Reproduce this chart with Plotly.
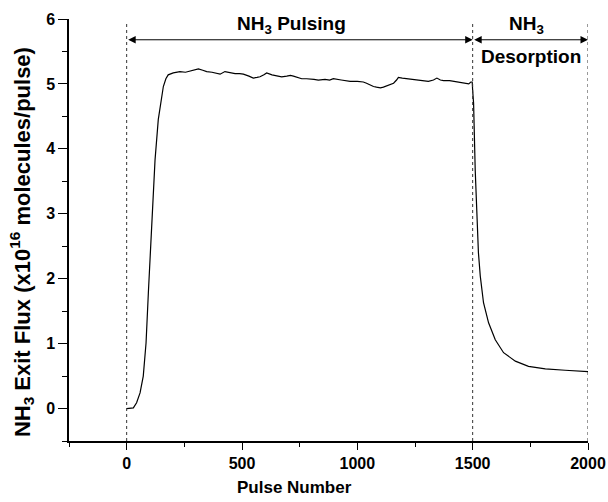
import plotly.graph_objects as go

# Pulse number (x) and NH3 exit flux (x1e16 molecules/pulse)
pulse = [0, 15, 29, 43, 58, 72, 84, 94, 108, 123, 137, 148, 159, 170, 180, 202, 231, 255, 275, 295,
         311, 330, 347, 370, 390, 405, 426, 450, 470, 490, 506, 530, 549, 565, 578, 595, 607, 630,
         651, 672, 694, 710, 723, 740, 759, 780, 795, 812, 831, 860, 880, 896, 930, 950, 969, 1000,
         1026, 1040, 1056, 1070, 1083, 1100, 1113, 1135, 1157, 1170, 1178, 1195, 1215, 1240, 1272,
         1290, 1308, 1330, 1345, 1360, 1374, 1400, 1432, 1455, 1475, 1483, 1492, 1498, 1500, 1504,
         1511, 1518, 1525, 1533, 1547, 1569, 1598, 1634, 1685, 1742, 1815, 1901, 2000]
flux = [0.00, 0.00, 0.01, 0.09, 0.24, 0.50, 1.01, 1.78, 2.80, 3.83, 4.45, 4.72, 4.96, 5.08, 5.14, 5.17,
        5.19, 5.18, 5.20, 5.21, 5.23, 5.21, 5.19, 5.18, 5.16, 5.15, 5.19, 5.17, 5.16, 5.16, 5.15,
        5.12, 5.09, 5.10, 5.11, 5.14, 5.17, 5.14, 5.12, 5.11, 5.12, 5.13, 5.12, 5.10, 5.08, 5.08,
        5.07, 5.07, 5.06, 5.07, 5.06, 5.08, 5.06, 5.05, 5.04, 5.04, 5.03, 5.01, 4.98, 4.96, 4.95,
        4.94, 4.95, 4.98, 5.01, 5.06, 5.10, 5.09, 5.08, 5.07, 5.05, 5.05, 5.04, 5.06, 5.09, 5.06,
        5.05, 5.05, 5.03, 5.02, 5.01, 5.00, 5.03, 5.03, 4.90, 4.70, 3.68, 2.91, 2.40, 2.04, 1.63,
        1.32, 1.06, 0.86, 0.73, 0.65, 0.61, 0.59, 0.57]

phase_bounds = [0, 1500, 2000]
phase_labels = ["NH<sub>3</sub> Pulsing", "NH<sub>3</sub>", "Desorption"]
x_ticks = [0, 500, 1000, 1500, 2000]
y_ticks = [0, 1, 2, 3, 4, 5, 6]
x_title = "Pulse Number"
y_title = "NH<sub>3</sub> Exit Flux (x10<sup>16</sup> molecules/pulse)"

FONT = "Liberation Sans, Arial, sans-serif"

fig = go.Figure()
fig.add_trace(go.Scatter(x=pulse, y=flux, mode="lines",
                         line=dict(color="black", width=1.2), showlegend=False))

for xb in phase_bounds:
    fig.add_shape(type="line", x0=xb, x1=xb, y0=-0.5, y1=5.94, xref="x", yref="y",
                  line=dict(color="#333", width=1, dash="dot"))

arrow_y = 5.68
for a, b in [(phase_bounds[0], phase_bounds[1]), (phase_bounds[1], phase_bounds[2])]:
    fig.add_annotation(x=b, y=arrow_y, ax=a, ay=arrow_y, xref="x", yref="y", axref="x", ayref="y",
                       text="", showarrow=True, arrowside="end+start", arrowhead=2,
                       arrowsize=1.5, arrowwidth=1, arrowcolor="black")

ann_font = dict(family=FONT, size=19, color="black", weight="bold")
fig.add_annotation(x=715, y=5.9, text=phase_labels[0], showarrow=False, font=ann_font)
fig.add_annotation(x=1733, y=5.9, text=phase_labels[1], showarrow=False, font=ann_font)
fig.add_annotation(x=1755, y=5.43, text=phase_labels[2], showarrow=False, font=ann_font)

# axis titles
fig.add_annotation(x=0.434, y=-0.111, xref="paper", yref="paper", text=x_title, showarrow=False,
                   xanchor="center", yanchor="middle",
                   font=dict(family=FONT, size=17, color="black", weight="bold"))
fig.add_annotation(x=-0.09, y=0.472, xref="paper", yref="paper", text=y_title, showarrow=False,
                   textangle=-90, xanchor="center", yanchor="middle",
                   font=dict(family=FONT, size=22, color="black", weight="bold"))

fig.update_layout(
    width=608, height=502,
    margin=dict(l=69, r=20, t=19, b=61),
    paper_bgcolor="white", plot_bgcolor="white",
    font=dict(family=FONT, color="black"),
)
fig.update_xaxes(
    range=[-250, 2000], tickvals=x_ticks, ticks="outside", ticklen=7, tickwidth=1.3,
    tickcolor="black", showline=True, linecolor="black", linewidth=1.5, showgrid=False,
    zeroline=False, automargin=False, tickfont=dict(family=FONT, size=16, weight="bold"),
    minor=dict(dtick=250, tick0=0, ticks="outside", ticklen=4, tickwidth=1.3, tickcolor="black", showgrid=False),
)
fig.update_yaxes(
    range=[-0.5, 6], tickvals=y_ticks, ticks="outside", ticklen=9, tickwidth=1.3,
    tickcolor="black", showline=True, linecolor="black", linewidth=1.5, showgrid=False,
    zeroline=False, automargin=False, tickfont=dict(family=FONT, size=16, weight="bold"),
    minor=dict(dtick=0.5, tick0=0, ticks="outside", ticklen=5, tickwidth=1.3, tickcolor="black", showgrid=False),
)

fig.write_html("out.html")
